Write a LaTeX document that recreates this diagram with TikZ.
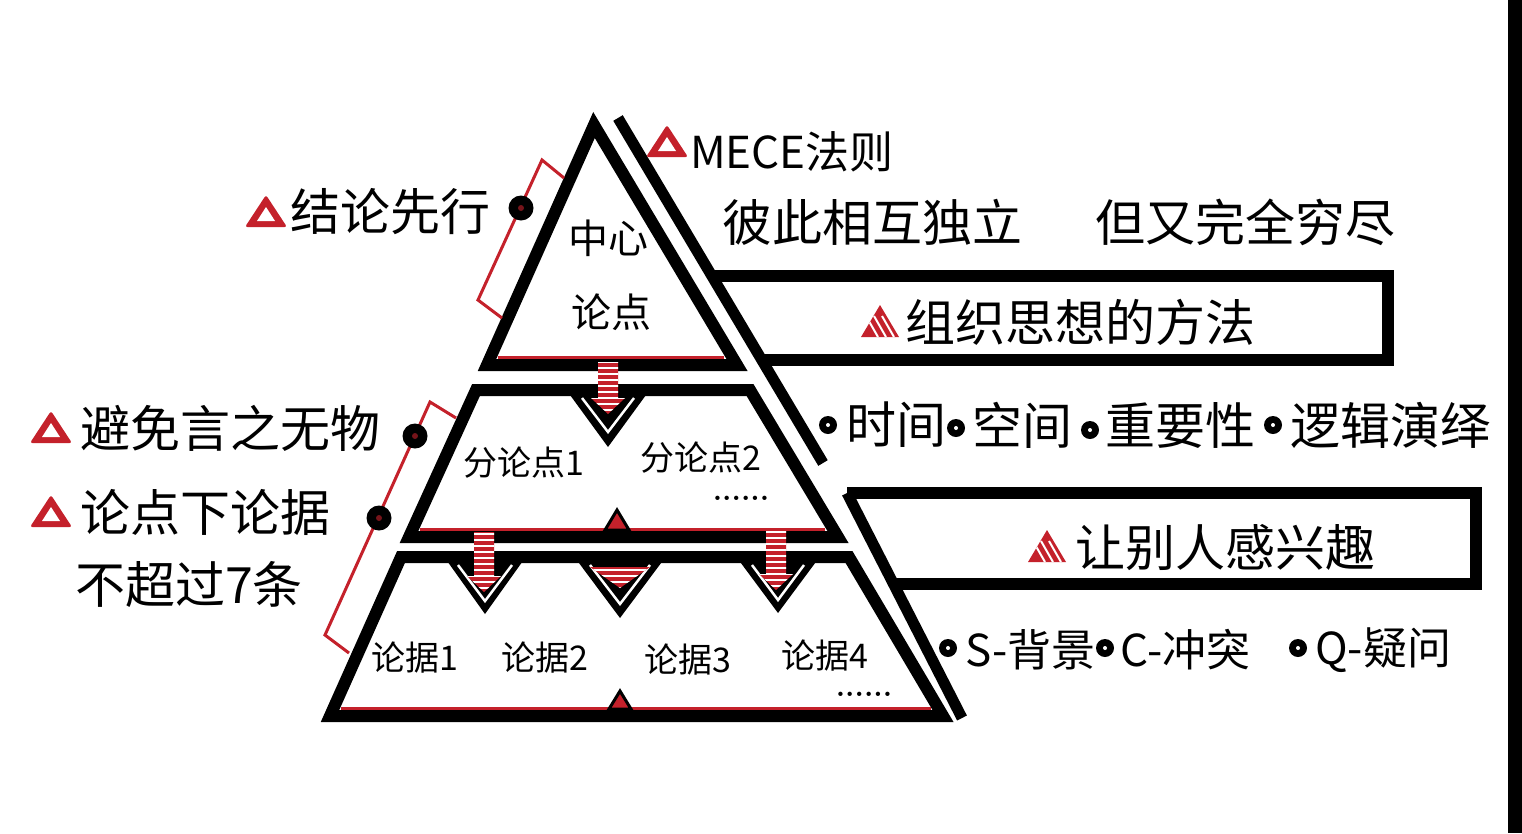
\documentclass[tikz,border=0pt]{standalone}
\usepackage{fontspec}
\usepackage{tikz}
\newfontfamily\cjk{Noto Sans CJK SC}
\definecolor{warnred}{HTML}{C4212B}

\tikzset{
  lab/.style={font=\cjk\fontsize{50}{54}\selectfont, anchor=west, inner sep=0pt},
  ptext/.style={font=\cjk\fontsize{34}{38}\selectfont, inner sep=0pt},
  ctext/.style={font=\cjk\fontsize{40}{44}\selectfont, inner sep=0pt},
  dots/.style={font=\bfseries\fontsize{30}{32}\selectfont, inner sep=0pt},
  bul/.style={circle, fill=black, minimum size=18pt, inner sep=0pt,
    path picture={\fill[white] (path picture bounding box.center) circle (2pt);}},
  bdot/.style={circle, fill=black, minimum size=25pt, inner sep=0pt,
    path picture={\fill[warnred!60!black] (path picture bounding box.center) circle (3pt);}},
  tier/.style={line width=12pt, line join=miter},
  bracket/.style={draw=warnred, line width=3pt},
  pics/warn/.style={code={
    \fill[warnred, rounded corners=2.5pt] (0,-17) -- (21,15) -- (-21,15) -- cycle;
    \fill[white] (0,-5) -- (9,9) -- (-9,9) -- cycle;
  }},
  pics/hwarn/.style={code={
    \fill[warnred] (0,-17) -- (19,15) -- (-19,15) -- cycle;
    \begin{scope}
      \clip (0,-17) -- (19,15) -- (-19,15) -- cycle;
      \foreach \s in {-14,-6,2,10} \draw[white, line width=2pt] (\s,-6) -- (\s+12,15);
    \end{scope}
  }},
  pics/sarrow/.style={code={
    \begin{scope}
      \clip (-10,-#1) rectangle (10,-16) (-17,-16) -- (17,-16) -- (0,0) -- cycle;
      \fill[warnred] (-20,-#1) rectangle (20,0);
      \foreach \k in {1,...,11} \draw[white, line width=2.4pt] (-20,{-6*\k+2}) -- (20,{-6*\k+2});
    \end{scope}
  }}
}

\begin{document}
\begin{tikzpicture}[x=1pt, y=-1pt]
    \useasboundingbox (0,0) rectangle (1522,833);
    \fill[white] (0,0) rectangle (1522,833);
    \fill[black] (1508,0) rectangle (1522,833);

    % pyramid
    \draw[tier] (594,125) -- (737,365) -- (487,365) -- cycle;
    \draw[tier] (476,390) -- (750,390) -- (838,537) -- (409,537) -- cycle;
    \draw[tier] (401,557) -- (849,557) -- (943,716) -- (330,716) -- cycle;
    \draw[warnred, line width=3pt] (498,357) -- (724,357);
    \draw[warnred, line width=3pt] (420,529) -- (825,529);
    \draw[warnred, line width=3pt] (341,708) -- (931,708);

    \fill (562,384) -- (654,384) -- (608,447) -- cycle;
    \draw[white, line width=2.5pt] (582,398) -- (608,432) -- (634,398);
    \fill (440,551) -- (530,551) -- (485,614) -- cycle;
    \draw[white, line width=2.5pt] (458,565) -- (485,601) -- (512,565);
    \fill (570,551) -- (670,551) -- (620,618) -- cycle;
    \draw[white, line width=2.5pt] (590,565) -- (620,604) -- (650,565);
    \fill (732,551) -- (824,551) -- (778,613) -- cycle;
    \draw[white, line width=2.5pt] (752,565) -- (778,600) -- (804,565);

    \pic at (608,414) {sarrow=52};
    \pic at (484,592) {sarrow=60};
    \pic at (776,590) {sarrow=60};
    \begin{scope}
        \clip (590,567) -- (650,567) -- (620,588) -- cycle;
        \fill[warnred] (580,560) rectangle (660,590);
        \foreach \k in {0,...,3} \draw[white, line width=2.4pt] (580,{570+6*\k}) -- (660,{570+6*\k});
    \end{scope}

    \filldraw[fill=warnred, draw=black, line width=3pt] (605,530) -- (617,510) -- (629,530) -- cycle;
    \filldraw[fill=warnred, draw=black, line width=3pt] (609,709) -- (620,691) -- (631,709) -- cycle;

    \node[ctext] (c1) at (608,238) {中心};
    \node[ctext] (c2) at (611,312) {论点};
    \node[ptext] (f1) at (524,463) {分论点1};
    \node[ptext] (f2) at (701,458) {分论点2};
    \node[dots] (e1) at (741,498) {......};
    \node[ptext] (g1) at (415,658) {论据1};
    \node[ptext] (g2) at (545,658) {论据2};
    \node[ptext] (g3) at (688,660) {论据3};
    \node[ptext] (g4) at (825,656) {论据4};
    \node[dots] (e2) at (864,694) {......};

    % right side
    \draw[line width=11pt] (618,118) -- (823,463);
    \draw[line width=11pt] (847,493) -- (962,718);
    \draw[line width=12pt, line join=miter] (712,276) -- (1388,276) -- (1388,360) -- (762,360);
    \draw[line width=12pt, line join=miter] (847,493) -- (1476,493) -- (1476,584) -- (894,584);

    \pic at (667,142) {warn};
    \node[lab, font=\cjk\fontsize{44}{48}\selectfont] (m1) at (690,152) {MECE法则};
    \node[lab] (m2) at (722,222) {彼此相互独立};
    \node[lab] (m3) at (1095,222) {但又完全穷尽};

    \pic at (880,322) {hwarn};
    \node[lab] (o1) at (905,322) {组织思想的方法};

    \node[bul] (p1) at (828,425) {};
    \node[lab] (q1) at (846,425) {时间};
    \node[bul] (p2) at (956,428) {};
    \node[lab] (q2) at (972,425) {空间};
    \node[bul] (p3) at (1090,430) {};
    \node[lab] (q3) at (1105,425) {重要性};
    \node[bul] (p4) at (1273,425) {};
    \node[lab] (q4) at (1290,425) {逻辑演绎};

    \pic at (1047,547) {hwarn};
    \node[lab] (s1) at (1075,548) {让别人感兴趣};

    \node[bul] (r1) at (948,648) {};
    \node[lab, font=\cjk\fontsize{44}{48}\selectfont] (u1) at (965,650) {S-背景};
    \node[bul] (r2) at (1105,648) {};
    \node[lab, font=\cjk\fontsize{44}{48}\selectfont] (u2) at (1120,650) {C-冲突};
    \node[bul] (r3) at (1298,648) {};
    \node[lab, font=\cjk\fontsize{44}{48}\selectfont] (u3) at (1315,650) {Q-疑问};

    % left side
    \coordinate (k1) at (564,178);
    \coordinate (k2) at (542,160);
    \coordinate (k3) at (478,300);
    \coordinate (k4) at (502,318);
    \draw[bracket] (k1) -- (k2) -- (k3) -- (k4);
    \node[bdot] (d1) at (521,208) {};

    \coordinate (k5) at (456,418);
    \coordinate (k6) at (430,402);
    \coordinate (k7) at (325,635);
    \coordinate (k8) at (349,653);
    \draw[bracket] (k5) -- (k6) -- (k7) -- (k8);
    \node[bdot] (d2) at (415,436) {};
    \node[bdot] (d3) at (379,518) {};

    \pic at (266,212) {warn};
    \node[lab] (t1) at (290,212) {结论先行};
    \pic at (51,428) {warn};
    \node[lab] (t2) at (80,428) {避免言之无物};
    \pic at (51,512) {warn};
    \node[lab] (t3) at (80,512) {论点下论据};
    \node[lab] (t4) at (75,584) {不超过7条};
\end{tikzpicture}
\end{document}
